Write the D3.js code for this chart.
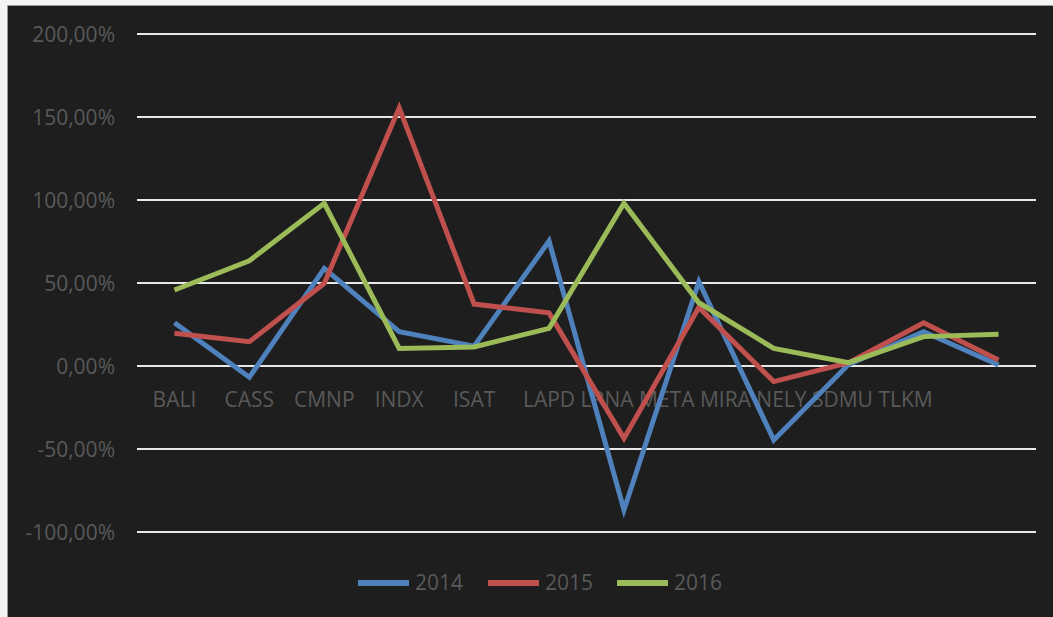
<!DOCTYPE html>
<html>
<head>
<meta charset="utf-8">
<script src="https://cdn.jsdelivr.net/npm/d3@7"></script>
<style>
  html, body { margin: 0; padding: 0; background: #f4f4f4; }
  svg { display: block; }
  text { font-family: "Open Sans", "Noto Sans", sans-serif; }
</style>
</head>
<body>
<svg id="chart" width="1053" height="617"></svg>
<script>
const categories = ["BALI", "CASS", "CMNP", "INDX", "ISAT", "LAPD", "LRNA", "META", "MIRA", "NELY", "SDMU", "TLKM"];
const seriesNames = ["2014", "2015", "2016"];
const values2014 = [26.0, -6.8, 58.8, 20.7, 12.0, 75.3, -86.7, 50.8, -44.6, 1.0, 20.7, 0.6];
const values2015 = [19.7, 14.6, 49.8, 155.5, 37.3, 32.0, -43.6, 35.3, -9.4, 2.0, 26.0, 3.6];
const values2016 = [45.8, 63.4, 98.0, 10.6, 11.5, 22.7, 98.0, 38.1, 10.6, 2.0, 17.7, 19.1];
const yTicks = [-100, -50, 0, 50, 100, 150, 200];
const colors = ["#4f81bd", "#c0504d", "#9bbb59"];

const series = [values2014, values2015, values2016].map((v, i) => ({ name: seriesNames[i], values: v, color: colors[i] }));

const svg = d3.select("#chart");
const W = 1053, H = 617;
const FS = "21px";
const TXT = "#595959";

// chart background
svg.append("rect").attr("x", 7.5).attr("y", 5.5).attr("width", W - 7).attr("height", H - 5)
  .attr("fill", "#1e1e1e").attr("stroke", "#9a9a9a").attr("stroke-width", 1);

const x = d3.scaleBand().domain(categories).range([137, 1036]);
const y = d3.scaleLinear().domain([-100, 200]).range([532, 34]);

const fmt = v => d3.format(".2f")(Math.abs(v)).replace(".", ",") + "%";
const fmtSigned = v => (v < 0 ? "-" : "") + fmt(v);

// gridlines
svg.append("g").selectAll("line").data(yTicks).join("line")
  .attr("x1", 137).attr("x2", 1036)
  .attr("y1", d => y(d)).attr("y2", d => y(d))
  .attr("stroke", "#e8e8e8").attr("stroke-width", 2);

// y axis labels
const yAxis = d3.axisLeft(y).tickValues(yTicks).tickFormat(fmtSigned).tickSize(0).tickPadding(0);
const yg = svg.append("g").attr("transform", "translate(115,0)").call(yAxis);
yg.select(".domain").remove();
yg.selectAll("text").attr("fill", TXT).style("font-size", FS).attr("dy", "0.35em")
  .style("font-family", "'Open Sans', sans-serif");

// x labels
const xl = svg.append("g");
const labelY = 407;
const texts = xl.selectAll("text").data(categories).join("text")
  .attr("y", labelY).attr("fill", TXT).style("font-size", FS)
  .text(d => d);
let prevEnd = null;
const spaceW = (() => {
  const t = xl.append("text").style("font-size", FS).text("a a");
  const t2 = xl.append("text").style("font-size", FS).text("aa");
  const w = t.node().getComputedTextLength() - t2.node().getComputedTextLength();
  t.remove(); t2.remove();
  return w;
})();
texts.each(function(d, i) {
  const w = this.getComputedTextLength();
  let start;
  if (i <= 5) start = x(d) + x.bandwidth() / 2 - w / 2;
  else start = prevEnd + spaceW;
  d3.select(this).attr("x", start);
  prevEnd = start + w;
});

// lines
const line = d3.line()
  .x((d, i) => x(categories[i]) + x.bandwidth() / 2)
  .y(d => y(d));
svg.append("g").selectAll("path").data(series).join("path")
  .attr("d", d => line(d.values))
  .attr("fill", "none").attr("stroke", d => d.color)
  .attr("stroke-width", 5).attr("stroke-linejoin", "miter").attr("stroke-linecap", "butt");

// legend
const legendX = [358, 488, 617];
const lg = svg.append("g").selectAll("g").data(series).join("g")
  .attr("transform", (d, i) => `translate(${legendX[i]},583)`);
lg.append("line").attr("x1", 0).attr("x2", 51).attr("y1", 0).attr("y2", 0)
  .attr("stroke", d => d.color).attr("stroke-width", 6);
lg.append("text").attr("x", 57).attr("y", 0).attr("dy", "0.35em")
  .attr("fill", TXT).style("font-size", FS).text(d => d.name);
</script>
</body>
</html>
